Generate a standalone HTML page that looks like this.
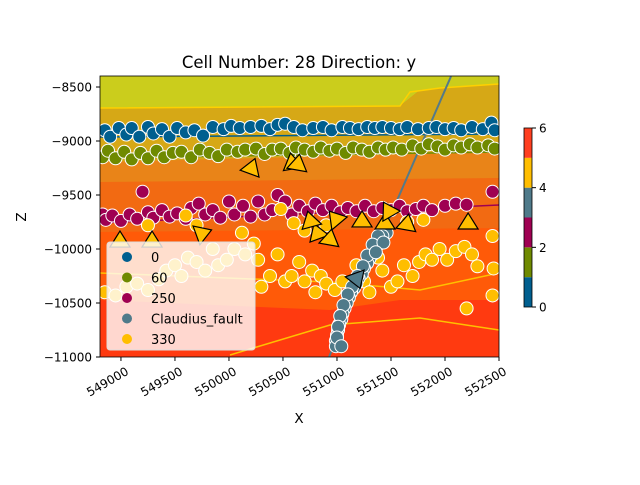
<!DOCTYPE html>
<html><head><meta charset="utf-8"><style>
body{margin:0;background:#fff;width:640px;height:480px;overflow:hidden;font-family:"Liberation Sans","DejaVu Sans",sans-serif}
svg text{font-family:"DejaVu Sans","Liberation Sans",sans-serif}
</style></head><body>
<svg id="c" width="640" height="480" xmlns="http://www.w3.org/2000/svg">
<defs><clipPath id="pa"><rect x="100" y="76" width="399" height="281"/></clipPath></defs>
<text x="299" y="68" font-size="16.5" text-anchor="middle">Cell Number: 28 Direction: y</text>
<g clip-path="url(#pa)">
<rect x="100" y="76" width="399" height="281" fill="#ff3a10"/>
<polygon points="100,230 499,226 499,300 400,300 330,310 100,300" fill="#ff5a08"/>
<polygon points="100,180 499,176 499,228 100,232" fill="#f26a12"/>
<polygon points="100,160 499,150 499,178 100,182" fill="#e98418"/>
<polygon points="100,108 400,106 420,90 499,84 499,152 100,162" fill="#d6a816"/>
<polygon points="100,76 499,76 499,84 420,90 400,106 100,108" fill="#cbcd1c"/>
<polyline points="100,108 400,106 410,92 440,88 499,84" fill="none" stroke="#ffd000" stroke-width="1.5"/>
<polyline points="100,137 499,134" fill="none" stroke="#005f8f" stroke-width="1.5"/>
<polyline points="100,158 499,152" fill="none" stroke="#6f8a00" stroke-width="1.5"/>
<polyline points="100,223 499,205" fill="none" stroke="#9f0052" stroke-width="1.5"/>
<polyline points="100,273 330,282 420,290 499,273" fill="none" stroke="#ffc000" stroke-width="1.5"/>
<polyline points="230,355 330,325 420,318 499,330" fill="none" stroke="#ffc000" stroke-width="1.5"/>
<g id="marks"></g>
</g>
<rect x="100" y="76" width="399" height="281" fill="none" stroke="#000" stroke-width="0.8"/>
<g id="axes"></g>
<g>
<rect x="107" y="242" width="148" height="108" rx="3" fill="#fff" fill-opacity="0.8" stroke="#ddd"/>
<g id="leg"></g>
</g>
<g id="cbar"></g>
<text x="299" y="423" font-size="13.5" text-anchor="middle">X</text>
<text x="26" y="217" font-size="13.5" text-anchor="middle" transform="rotate(-90 26 217)">Z</text>
</svg>
<script>
const xTicks=[549000,549500,550000,550500,551000,551500,552000,552500];
const yTicks=[-8500,-9000,-9500,-10000,-10500,-11000];
const seriesNames=["0","60","250","Claudius_fault","330"];
const seriesColors=["#005f8f","#6f8a00","#9f0052","#4f7a8a","#ffbe00"];
const pts0=[[548850,-8900],[548900,-8960],[548980,-8880],[549050,-8940],[549100,-8880],[549170,-8960],[549250,-8870],[549300,-8930],[549380,-8890],[549450,-8960],[549520,-8880],[549600,-8920],[549680,-8900],[549760,-8950],[549850,-8870],[549950,-8890],[550020,-8860],[550100,-8880],[550200,-8870],[550300,-8860],[550380,-8890],[550450,-8850],[550520,-8840],[550600,-8870],[550680,-8900],[550780,-8880],[550870,-8870],[550950,-8900],[551050,-8870],[551120,-8880],[551200,-8890],[551280,-8870],[551350,-8880],[551420,-8870],[551500,-8880],[551580,-8890],[551650,-8870],[551750,-8890],[551850,-8880],[551920,-8870],[552000,-8890],[552080,-8880],[552150,-8900],[552250,-8870],[552350,-8890],[552430,-8830],[552460,-8900]];
const pts60=[[548830,-9150],[548880,-9090],[548950,-9160],[549030,-9100],[549100,-9170],[549180,-9110],[549250,-9160],[549330,-9090],[549400,-9150],[549480,-9110],[549560,-9100],[549650,-9150],[549730,-9080],[549820,-9110],[549900,-9140],[549980,-9080],[550080,-9100],[550150,-9080],[550250,-9070],[550330,-9120],[550400,-9080],[550480,-9070],[550560,-9110],[550620,-9060],[550700,-9080],[550780,-9100],[550850,-9060],[550930,-9090],[551000,-9070],[551080,-9110],[551150,-9060],[551230,-9080],[551300,-9100],[551380,-9060],[551450,-9080],[551520,-9060],[551600,-9080],[551700,-9040],[551780,-9070],[551850,-9030],[551930,-9050],[552000,-9080],[552080,-9040],[552150,-9060],[552230,-9030],[552300,-9060],[552400,-9040],[552460,-9070]];
const pts250=[[548830,-9680],[548860,-9730],[548920,-9690],[549000,-9740],[549080,-9680],[549150,-9720],[549200,-9470],[549250,-9660],[549300,-9710],[549380,-9640],[549450,-9700],[549520,-9670],[549600,-9720],[549650,-9620],[549720,-9580],[549780,-9680],[549850,-9640],[549920,-9710],[550000,-9560],[550050,-9680],[550130,-9600],[550200,-9700],[550270,-9560],[550330,-9680],[550400,-9640],[550450,-9500],[550520,-9560],[550580,-9680],[550650,-9600],[550730,-9650],[550800,-9580],[550870,-9640],[550950,-9600],[551030,-9660],[551100,-9620],[551180,-9650],[551260,-9600],[551340,-9650],[551420,-9620],[551500,-9640],[551580,-9600],[551650,-9650],[551730,-9630],[551800,-9600],[551880,-9640],[552000,-9600],[552100,-9580],[552200,-9590],[552440,-9470]];
const ptsFault=[[551460,-9850],[551420,-9880],[551400,-9920],[551380,-9960],[551350,-10000],[551330,-10050],[551300,-10090],[551280,-10130],[551250,-10180],[551230,-10230],[551200,-10270],[551180,-10320],[551160,-10360],[551130,-10400],[551110,-10450],[551090,-10500],[551070,-10550],[551050,-10600],[551040,-10650],[551020,-10700],[551010,-10750],[551000,-10800],[550990,-10850],[550990,-10900],[551380,-9880],[551330,-9960],[551280,-10060],[551240,-10160],[551190,-10250],[551140,-10350],[551100,-10420],[551060,-10520],[551030,-10620],[551010,-10720],[551000,-10820],[551040,-10900],[551430,-9940],[551360,-10030]];
const pts330=[[548850,-10400],[548950,-10430],[549050,-10350],[549150,-10320],[549250,-10380],[549350,-10280],[549420,-10200],[549500,-10150],[549560,-10250],[549620,-10080],[549700,-10120],[549780,-10200],[549850,-10000],[549900,-10150],[549980,-10100],[550050,-10000],[550120,-9850],[550150,-10050],[550230,-9950],[550270,-10100],[550300,-10350],[550380,-10250],[550450,-10050],[550520,-10300],[550580,-10250],[550650,-10120],[550700,-10300],[550770,-10200],[550800,-10400],[550850,-10250],[550900,-10320],[550980,-10380],[551050,-10300],[551180,-10150],[551250,-10300],[551300,-10400],[551380,-10080],[551420,-10200],[551500,-10350],[551560,-10300],[551620,-10150],[551700,-10250],[551760,-10120],[551820,-10050],[551880,-10100],[551950,-10000],[552020,-10100],[552100,-10020],[552180,-9980],[552250,-10050],[552300,-10160],[552200,-10550],[552440,-10430],[552440,-9880],[552450,-10180],[550480,-9630],[550600,-9760],[550700,-9830],[550900,-9780],[551650,-9750],[551800,-9730],[549250,-9780],[549600,-9690],[549700,-9780]];
const orientX=[550213,550584,550639,549760,548991,549288,550815,550936,550982,551232,551445,551473,551649,552214,550751];
const orientY=[-9241,-9194,-9204,-9852,-9917,-9917,-9843,-9898,-9713,-9731,-9750,-9639,-9759,-9750,-9731];
const orientRot=[20,-10,10,70,0,0,-20,10,-40,0,0,-30,10,0,-15];
const faultOrientX=[551186];
const faultOrientY=[-10287];
const faultLineX=[550926,552056];
const faultLineY=[-11000,-8400];
const cbValues=[0,1,2,3,4,5,6];
const cbTicks=[0,2,4,6];
const cbColors=["#005f8f","#6f8a00","#9f0052","#4f7a8a","#ffbe00","#ff3f20"];

const X0=548806,X1=552500,Y0=-11000,Y1=-8398;
const sx=v=>100+(v-X0)/(X1-X0)*399;
const sy=v=>357-(v-Y0)/(Y1-Y0)*281;
const NS="http://www.w3.org/2000/svg";
function mk(t,a,p){const e=document.createElementNS(NS,t);for(const k in a)e.setAttribute(k,a[k]);p.appendChild(e);return e;}
const marks=document.getElementById('marks');
const fl=mk('line',{x1:sx(faultLineX[0]),y1:sy(faultLineY[0]),x2:sx(faultLineX[1]),y2:sy(faultLineY[1]),stroke:'#557a88','stroke-width':2},marks);


const allSeries=[pts0,pts60,pts250,ptsFault,pts330];
const order=[0,1,2,4,3];
order.forEach(si=>{
  allSeries[si].forEach(p=>{
    const c=mk('circle',{cx:sx(p[0]),cy:sy(p[1]),r:6.5,fill:seriesColors[si],stroke:'#fff','stroke-width':1},marks);
    
    
  });
});
function tri(x,y,rot,col,name){
  const g=mk('polygon',{points:'0,-9 10,7 -10,7',fill:col,stroke:'#000','stroke-width':1.2,transform:`translate(${x},${y}) rotate(${rot})`},marks);
  
  
}
orientX.forEach((v,i)=>tri(sx(v),sy(orientY[i]),orientRot[i],'#ffbe00','orientation-330'));
faultOrientX.forEach((v,i)=>tri(sx(v),sy(faultOrientY[i]),160,'#4f7a8a','orientation-fault'));

const ax=document.getElementById('axes');
xTicks.forEach(t=>{
  const x=sx(t);
  const l=mk('line',{x1:x,y1:357,x2:x,y2:361,stroke:'#000'},ax);
  
  
  const tx=mk('text',{x:x+4,y:366,'font-size':12,'text-anchor':'end',transform:`rotate(-30 ${x+4} 366)`,dy:'0.75em'},ax);
  tx.textContent=t;
  
  
});
yTicks.forEach(t=>{
  const y=sy(t);
  const l=mk('line',{x1:96,y1:y,x2:100,y2:y,stroke:'#000'},ax);
  
  
  const tx=mk('text',{x:92,y:y+4.5,'font-size':12,'text-anchor':'end'},ax);
  tx.textContent='\u2212'+Math.abs(t);
  
  
});
const leg=document.getElementById('leg');
seriesNames.forEach((n,i)=>{
  const y=257+i*20.5;
  const c=mk('circle',{cx:127,cy:y,r:5,fill:seriesColors[i]},leg);
  
  
  const t=mk('text',{x:151,y:y+5,'font-size':13},leg);
  t.textContent=n;
  
  
});
const cb=document.getElementById('cbar');
const cy=v=>307-(v-cbValues[0])/(cbValues[cbValues.length-1]-cbValues[0])*179;
cbColors.forEach((col,i)=>{
  const r=mk('rect',{x:524,y:cy(cbValues[i+1]),width:8,height:cy(cbValues[i])-cy(cbValues[i+1]),fill:col},cb);
  
  
});
const fr=mk('rect',{x:524,y:128,width:8,height:179,fill:'none',stroke:'#000','stroke-width':0.8},cb);


cbTicks.forEach(t=>{
  const y=cy(t);
  const l=mk('line',{x1:532,y1:y,x2:536,y2:y,stroke:'#000'},cb);
  
  
  const tx=mk('text',{x:539,y:y+4.5,'font-size':12},cb);
  tx.textContent=t;
  
  
});
</script>
</body></html>
